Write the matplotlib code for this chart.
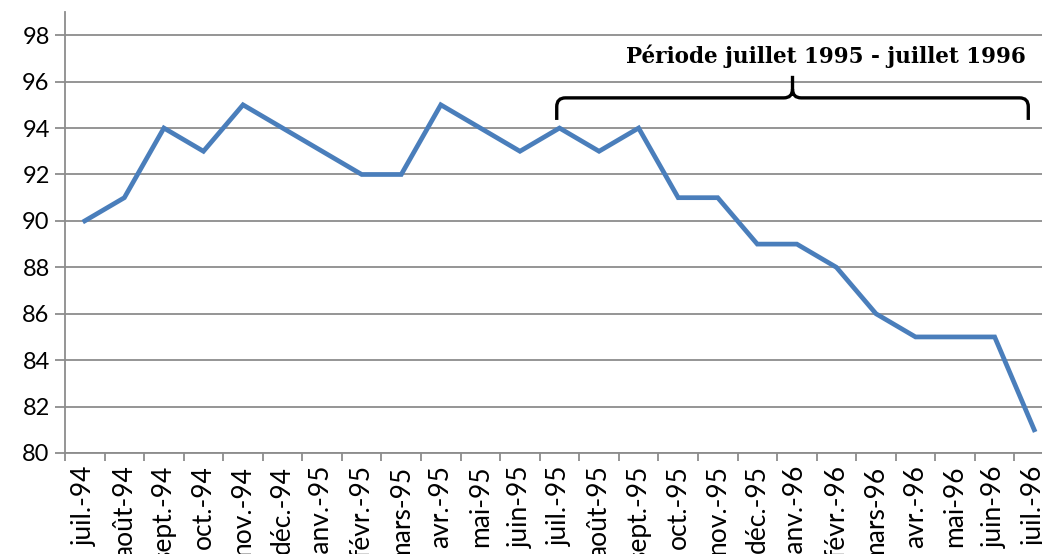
import matplotlib
matplotlib.use("Agg")
import matplotlib.pyplot as plt
from matplotlib.path import Path
from matplotlib.patches import PathPatch

mois = ["juil.-94", "août-94", "sept.-94", "oct.-94", "nov.-94", "déc.-94",
        "janv.-95", "févr.-95", "mars-95", "avr.-95", "mai-95", "juin-95",
        "juil.-95", "août-95", "sept.-95", "oct.-95", "nov.-95", "déc.-95",
        "janv.-96", "févr.-96", "mars-96", "avr.-96", "mai-96", "juin-96",
        "juil.-96"]
valeurs = [90, 91, 94, 93, 95, 94, 93, 92, 92, 95, 94, 93, 94, 93, 94,
           91, 91, 89, 89, 88, 86, 85, 85, 85, 81]
periode = ("juil.-95", "juil.-96")
titre_periode = "Période juillet 1995 - juillet 1996"

grey = "#8c8c8c"
fig = plt.figure(figsize=(10.42, 5.54), dpi=100)
ax = fig.add_axes([65/1042, 1 - 453/554, 989/1042, 441/554])

x = list(range(len(mois)))
ax.plot(x, valeurs, color="#4a7ebb", lw=3.4, solid_joinstyle="miter", zorder=3)

ax.set_xlim(-0.5, len(mois) - 0.5)
ax.set_ylim(80, 99)
ax.set_yticks(range(80, 99, 2))
ax.grid(axis="y", color=grey, lw=1.3)
ax.set_axisbelow(True)
for s in ["top", "right"]:
    ax.spines[s].set_visible(False)
for s in ["left", "bottom"]:
    ax.spines[s].set_color(grey)
    ax.spines[s].set_linewidth(1.3)

ax.set_xticks(x)
ax.set_xticklabels(mois, rotation=90, fontfamily="Lato", fontsize=19)
ax.set_xticks([i - 0.5 for i in range(len(mois) + 1)], minor=True)
ax.tick_params(axis="x", which="major", length=0, pad=9)
ax.tick_params(axis="x", which="minor", length=6, color=grey, width=1.3)
ax.tick_params(axis="y", length=7, color=grey, width=1.3, pad=4)
for t in ax.get_yticklabels():
    t.set_fontfamily("Lato")
    t.set_fontsize(17)

# accolade au-dessus de la période
i0 = mois.index(periode[0]) - 0.07
i1 = mois.index(periode[1]) - 0.15
im = (i0 + i1) / 2
yb, yh, yt = 94.35, 95.3, 96.25
rx, ry = 0.22, 0.38
verts = [(i0, yb), (i0, yh - ry), (i0, yh), (i0 + rx, yh),
         (im - rx, yh), (im, yh), (im, yh + ry), (im, yt),
         (im, yh + ry), (im, yh), (im + rx, yh),
         (i1 - rx, yh), (i1, yh), (i1, yh - ry), (i1, yb)]
codes = [Path.MOVETO, Path.LINETO, Path.CURVE3, Path.CURVE3,
         Path.LINETO, Path.CURVE3, Path.CURVE3, Path.LINETO,
         Path.MOVETO, Path.CURVE3, Path.CURVE3,
         Path.LINETO, Path.CURVE3, Path.CURVE3, Path.LINETO]
ax.add_patch(PathPatch(Path(verts, codes), fill=False, lw=2.4, color="black", zorder=4))
ax.text(i1 - 0.07, 97.1, titre_periode, ha="right", va="center",
        fontfamily="DejaVu Serif", fontweight="bold", fontsize=15.5)

fig.savefig("out.png", dpi=100)
